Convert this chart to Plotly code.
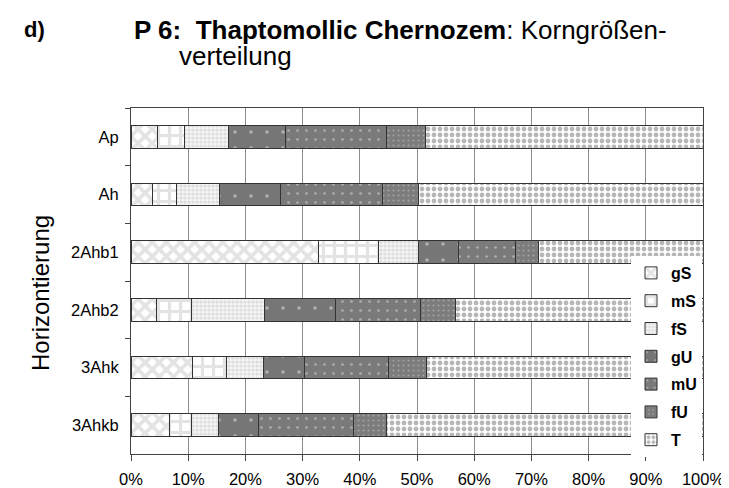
import plotly.graph_objects as go

categories = ["Ap", "Ah", "2Ahb1", "2Ahb2", "3Ahk", "3Ahkb"]
fractions = ["gS", "mS", "fS", "gU", "mU", "fU", "T"]

gS = [4.6, 3.8, 32.8, 4.5, 10.8, 6.8]
mS = [4.7, 4.1, 10.4, 6.0, 5.9, 3.8]
fS = [7.7, 7.5, 7.1, 12.9, 6.4, 4.7]
gU = [10.0, 10.8, 7.0, 12.4, 7.2, 7.0]
mU = [17.7, 17.7, 10.0, 14.8, 14.7, 16.6]
fU = [6.8, 6.3, 3.9, 6.2, 6.7, 5.7]
T = [48.5, 49.8, 28.8, 43.2, 48.3, 55.4]

series = [gS, mS, fS, gU, mU, fU, T]
x_ticks = [0, 10, 20, 30, 40, 50, 60, 70, 80, 90, 100]

styles = {
    "gS": dict(shape="x", size=10, solidity=0.6, fgcolor="#c8c8c8", bgcolor="#ffffff"),
    "mS": dict(shape="+", size=11, solidity=0.5, fgcolor="#c8c8c8", bgcolor="#ffffff"),
    "fS": dict(shape=".", size=4, solidity=0.5, fgcolor="#c4c4c4", bgcolor="#f4f4f4"),
    "gU": dict(shape=".", size=16, solidity=0.04, fgcolor="#e8e8e8", bgcolor="#767676"),
    "mU": dict(shape=".", size=9, solidity=0.07, fgcolor="#e0e0e0", bgcolor="#7a7a7a"),
    "fU": dict(shape=".", size=5, solidity=0.14, fgcolor="#c8c8c8", bgcolor="#7c7c7c"),
    "T": dict(shape=".", size=6, solidity=0.5, fgcolor="#707070", bgcolor="#ffffff"),
}

fig = go.Figure()
for i, (name, vals) in enumerate(zip(fractions, series)):
    st = styles[name]
    fig.add_trace(go.Bar(
        y=categories, x=vals, name=name, orientation="h", legendgroup=f"g{i}",
        marker=dict(color=st["bgcolor"], line=dict(color="#333333", width=1),
                    pattern=dict(shape=st["shape"], size=st["size"], solidity=st["solidity"],
                                 fgcolor=st["fgcolor"], bgcolor=st["bgcolor"], fillmode="overlay")),
        hoverinfo="skip",
    ))

# page offset of the figure inside the browser page (body margin)
OFF = 8
W, H = 729 - OFF, 488 - OFF
L = 131 - OFF
Tm = 108 - OFF
R = W - (703 - OFF)
B = H - (454 - OFF)
pw = W - L - R
ph = H - Tm - B

def px(xp):
    return (xp - OFF - L) / pw

def py(yp):
    return (H - B - (yp - OFF)) / ph

FONT = "Liberation Sans, Arial, sans-serif"

fig.update_layout(
    width=W, height=H,
    margin=dict(l=L, r=R, t=Tm, b=B, autoexpand=False),
    paper_bgcolor="white", plot_bgcolor="white",
    barmode="stack", bargap=0.61,
    font=dict(family=FONT, color="#000000", size=16),
    showlegend=True,
    legend=dict(x=px(631), y=py(256), xanchor="left", yanchor="top",
                bgcolor="white", borderwidth=0, traceorder="grouped",
                font=dict(size=16, family=FONT, weight="bold"),
                itemwidth=30, tracegroupgap=4),
    xaxis=dict(range=[0, 100], tickvals=x_ticks, ticktext=[f"{v}%" for v in x_ticks],
               showgrid=True, gridcolor="#8c8c8c", gridwidth=1,
               showline=True, linecolor="#444444", linewidth=1, mirror=True,
               ticks="outside", ticklen=6, tickcolor="#444444", automargin=False,
               tickfont=dict(size=16.5),
               ticklabelstandoff=4, zeroline=False, fixedrange=True),
    yaxis=dict(categoryorder="array", categoryarray=categories, autorange="reversed",
               showgrid=False, showline=True, linecolor="#444444", linewidth=1, mirror=True,
               ticks="outside", ticklen=5, tickcolor="#444444", tickson="boundaries",
               tickfont=dict(size=16.5), automargin=False,
               ticklabelstandoff=8, zeroline=False, fixedrange=True),
)

fig.add_annotation(x=px(22), y=py(30), xref="paper", yref="paper", xanchor="left", yanchor="middle",
                   text="<b>d)</b>", showarrow=False, font=dict(size=22))
fig.add_annotation(x=px(132), y=py(30), xref="paper", yref="paper", xanchor="left", yanchor="middle",
                   text="<b>P 6:&nbsp; Thaptomollic Chernozem</b>: Korngrößen-", showarrow=False,
                   font=dict(size=26))
fig.add_annotation(x=px(177), y=py(56), xref="paper", yref="paper", xanchor="left", yanchor="middle",
                   text="verteilung", showarrow=False, font=dict(size=26))
fig.add_annotation(x=px(40), y=py(293), xref="paper", yref="paper", xanchor="center", yanchor="middle",
                   text="Horizontierung", textangle=-90, showarrow=False, font=dict(size=24))

fig.write_html("out.html")
